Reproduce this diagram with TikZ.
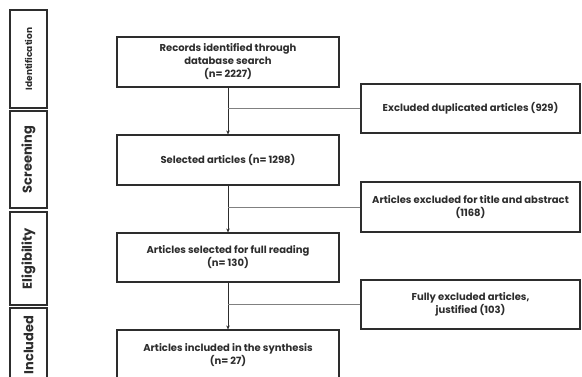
\documentclass[tikz,border=0pt]{standalone}
\usepackage{fontspec}
\setmainfont{Poppins}
\usetikzlibrary{arrows.meta}
\definecolor{ink}{RGB}{45,45,45}

\begin{document}
\begin{tikzpicture}[x=1pt, y=-1pt, >={Stealth[length=4pt,width=3.5pt]},
    stage/.style={draw=ink, line width=1.2pt, rotate=90, minimum height=37pt, inner sep=0pt, text=ink, font=\fontsize{13}{15}\selectfont\bfseries},
    stepbox/.style={draw=ink, line width=1.2pt, minimum width=222pt, minimum height=50pt, align=center, inner sep=0pt, text=ink, font=\fontsize{10}{13}\selectfont\bfseries},
    outbox/.style={stepbox, minimum width=219pt, minimum height=49pt}]
    \useasboundingbox (0,0) rectangle (582,376);
    \clip (0,0) rectangle (582,376);

    % stages on the left
    \node[stage, minimum width=98pt, font=\fontsize{9}{11}\selectfont\bfseries] (sIdent) at (28.5,59) {Identification};
    \node[stage, minimum width=97pt] (sScreen) at (28.5,159.5) {Screening};
    \node[stage, minimum width=93pt] (sElig) at (28.5,258.5) {Eligibility};
    \node[stage, minimum width=74pt] (sIncl) at (28.5,345) {Included};

    % main flow
    \node[stepbox] (records) at (228,62) {Records identified through\\database search\\(n= 2227)};
    \node[stepbox] (selected) at (228,160) {Selected articles (n= 1298)};
    \node[stepbox, minimum height=49pt] (full) at (228,257.5) {Articles selected for full reading\\(n= 130)};
    \node[stepbox] (synth) at (228,355) {Articles included in the synthesis\\(n= 27)};

    % excluded
    \node[outbox] (dupl) at (470.5,108.5) {Excluded duplicated articles (929)};
    \node[outbox, minimum height=50pt] (title) at (470.5,207) {Articles excluded for title and abstract\\(1168)};
    \node[outbox] (fully) at (470.5,304.5) {Fully excluded articles,\\justified (103)};

    \draw[->, ink, line width=0.9pt] (records) -- (selected);
    \draw[->, ink, line width=0.9pt] (selected) -- (full);
    \draw[->, ink, line width=0.9pt] (full) -- (synth);
    \draw[gray, line width=0.9pt] (dupl.west) -- (dupl.west -| records);
    \draw[gray, line width=0.9pt] (title.west) -- (title.west -| selected);
    \draw[gray, line width=0.9pt] (fully.west) -- (fully.west -| full);
\end{tikzpicture}
\end{document}
